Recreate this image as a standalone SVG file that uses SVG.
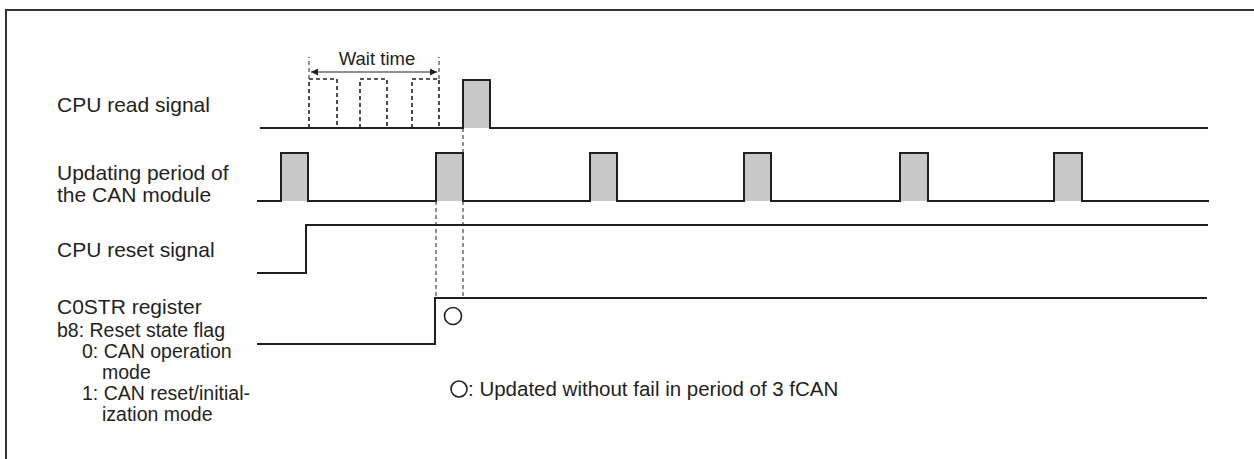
<svg xmlns="http://www.w3.org/2000/svg" width="1254" height="459" viewBox="0 0 1254 459">
<defs>
<style>
text{font-family:"Liberation Sans",Arial,sans-serif;fill:#231f20}
.lbl{font-size:21px}
.sub{font-size:19.5px}
.sig{fill:none;stroke:#231f20;stroke-width:2}
.pulse{fill:#c8c8c8}
.dash{fill:none;stroke:#231f20;stroke-width:1;stroke-dasharray:4 3}
.dashp{fill:none;stroke:#231f20;stroke-width:1.6;stroke-dasharray:4 3}
.circ{fill:none;stroke:#231f20;stroke-width:1.6}
</style>
<marker id="ah" viewBox="0 0 10 10" refX="10" refY="5" markerWidth="9" markerHeight="7" orient="auto-start-reverse" markerUnits="userSpaceOnUse">
<path d="M0,0 L10,5 L0,10 Z" fill="#231f20"/>
</marker>
</defs>
<rect width="1254" height="459" fill="#fff"/>
<path d="M6,459 V10 H1254" fill="none" stroke="#333" stroke-width="2"/>

<g id="label-cpu-read"><text class="lbl" x="57" y="112">CPU read signal</text></g>
<g id="label-update"><text class="lbl" x="57" y="180">Updating period of</text><text class="lbl" x="57" y="202">the CAN module</text></g>
<g id="label-cpu-reset"><text class="lbl" x="57" y="257">CPU reset signal</text></g>
<g id="label-c0str">
<text class="lbl" x="57" y="314">C0STR register</text>
<text class="sub" x="57" y="337">b8: Reset state flag</text>
<text class="sub" x="82" y="358">0: CAN operation</text>
<text class="sub" x="102" y="379">mode</text>
<text class="sub" x="82" y="400">1: CAN reset/initial-</text>
<text class="sub" x="102" y="421">ization mode</text>
</g>

<g id="sig-cpu-read">
<rect class="pulse" x="463" y="80" width="27" height="48"/>
<path class="sig" d="M260,128 H463 V80 H490 V128 H1208"/>
<path class="dashp" d="M309,128 V79 H337 V128 M360,128 V79 H387 V128 M412,128 V79 H439 V128"/>
<path class="dash" d="M309,79 V57 M439,79 V57"/>
</g>
<g id="wait-time">
<line x1="311" y1="72" x2="437" y2="72" stroke="#231f20" stroke-width="1" marker-start="url(#ah)" marker-end="url(#ah)"/>
<text x="377" y="65" font-size="18.5" text-anchor="middle">Wait time</text>
</g>

<g id="sig-update">
<rect class="pulse" x="281" y="153" width="27" height="48"/>
<rect class="pulse" x="436" y="153" width="27" height="48"/>
<rect class="pulse" x="590" y="153" width="27" height="48"/>
<rect class="pulse" x="744" y="153" width="27" height="48"/>
<rect class="pulse" x="900" y="153" width="28" height="48"/>
<rect class="pulse" x="1054" y="153" width="28" height="48"/>
<path class="sig" d="M257,201 H281 V153 H308 V201 H436 V153 H463 V201 H590 V153 H617 V201 H744 V153 H771 V201 H900 V153 H928 V201 H1054 V153 H1082 V201 H1209"/>
</g>

<g id="sig-cpu-reset">
<path class="sig" d="M257,273 H306 V225 H1208"/>
</g>

<g id="sig-c0str">
<path class="sig" d="M257,344 H435 V298 H1207"/>
<circle class="circ" cx="453" cy="316" r="8.5"/>
</g>

<g id="connectors">
<path class="dash" d="M463,128 V153 M436,201 V298 M463,201 V298"/>
</g>

<g id="legend">
<circle class="circ" cx="459" cy="389" r="8"/>
<text x="468" y="396" font-size="20.5">: Updated without fail in period of 3 fCAN</text>
</g>
</svg>
